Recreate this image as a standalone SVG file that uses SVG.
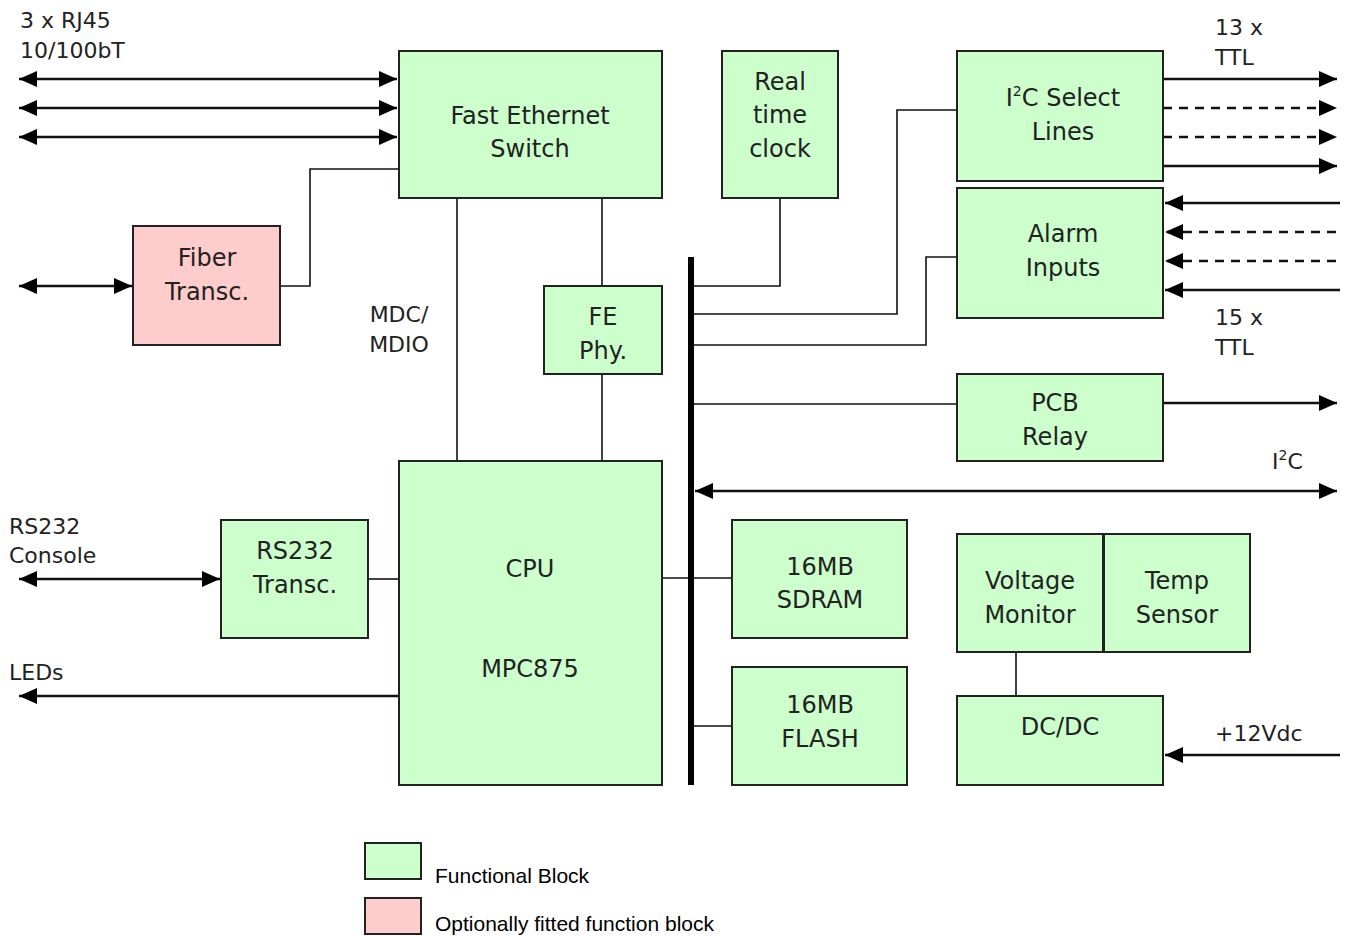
<svg xmlns="http://www.w3.org/2000/svg" width="1347" height="936" viewBox="0 0 1347 936">
<style>
.g{fill:#ccffcc;stroke:#222;stroke-width:2}
.p{fill:#ffcccc;stroke:#222;stroke-width:2}
.t{font-family:"DejaVu Sans",Verdana,sans-serif;font-size:24px;fill:#222;text-anchor:middle}
.l{font-family:"DejaVu Sans",Verdana,sans-serif;font-size:22px;fill:#222}
.lg{font-family:"Liberation Sans",Arial,sans-serif;font-size:21px;fill:#000}
.w{fill:none;stroke:#111;stroke-width:1.6}
.a{fill:none;stroke:#111;stroke-width:2.4}
.d{stroke-dasharray:9,7}
.s{font-size:14px}
</style>
<defs>
<marker id="ah" markerUnits="userSpaceOnUse" markerWidth="20" markerHeight="16" refX="18" refY="8" orient="auto-start-reverse"><path d="M0,0 L18,8 L0,16 Z" fill="#000"/></marker>
</defs>
<g id="connectors">
<line class="a" x1="19" y1="79" x2="397" y2="79" marker-start="url(#ah)" marker-end="url(#ah)"/>
<line class="a" x1="19" y1="108" x2="397" y2="108" marker-start="url(#ah)" marker-end="url(#ah)"/>
<line class="a" x1="19" y1="137" x2="397" y2="137" marker-start="url(#ah)" marker-end="url(#ah)"/>
<line class="a" x1="19" y1="286" x2="132" y2="286" marker-start="url(#ah)" marker-end="url(#ah)"/>
<polyline class="w" points="281,286 310,286 310,169 399,169"/>
<line class="w" x1="457" y1="198" x2="457" y2="461"/>
<line class="w" x1="602" y1="198" x2="602" y2="286"/>
<line class="w" x1="602" y1="374" x2="602" y2="461"/>
<polyline class="w" points="780,198 780,286 693,286"/>
<polyline class="w" points="693,314 897,314 897,110 957,110"/>
<polyline class="w" points="693,345 926,345 926,257 957,257"/>
<line class="w" x1="693" y1="404" x2="957" y2="404"/>
<line class="a" x1="695" y1="491" x2="1337" y2="491" marker-start="url(#ah)" marker-end="url(#ah)"/>
<line class="w" x1="662" y1="578" x2="732" y2="578"/>
<line class="w" x1="693" y1="726" x2="732" y2="726"/>
<line class="w" x1="1016" y1="652" x2="1016" y2="696"/>
<line class="a" x1="1340" y1="755" x2="1165" y2="755" marker-end="url(#ah)"/>
<line class="a" x1="19" y1="579" x2="220" y2="579" marker-start="url(#ah)" marker-end="url(#ah)"/>
<line class="w" x1="368" y1="579" x2="399" y2="579"/>
<line class="a" x1="399" y1="696" x2="19" y2="696" marker-end="url(#ah)"/>
<line class="a" x1="1163" y1="79" x2="1337" y2="79" marker-end="url(#ah)"/>
<line class="a d" x1="1163" y1="108" x2="1337" y2="108" marker-end="url(#ah)"/>
<line class="a d" x1="1163" y1="137" x2="1337" y2="137" marker-end="url(#ah)"/>
<line class="a" x1="1163" y1="166" x2="1337" y2="166" marker-end="url(#ah)"/>
<line class="a" x1="1340" y1="203" x2="1165" y2="203" marker-end="url(#ah)"/>
<line class="a d" x1="1336" y1="232" x2="1165" y2="232" marker-end="url(#ah)"/>
<line class="a d" x1="1336" y1="261" x2="1165" y2="261" marker-end="url(#ah)"/>
<line class="a" x1="1340" y1="290" x2="1165" y2="290" marker-end="url(#ah)"/>
<line class="a" x1="1163" y1="403" x2="1337" y2="403" marker-end="url(#ah)"/>
<rect x="688" y="257" width="6" height="528" fill="#000"/>
</g>
<g id="switch"><rect class="g" x="399" y="51" width="263" height="147"/><text class="t" x="530" y="124">Fast Ethernet</text><text class="t" x="530" y="157">Switch</text></g>
<g id="rtc"><rect class="g" x="722" y="51" width="116" height="147"/><text class="t" x="780" y="90">Real</text><text class="t" x="780" y="123">time</text><text class="t" x="780" y="157">clock</text></g>
<g id="i2csel"><rect class="g" x="957" y="51" width="206" height="130"/><text class="t" x="1063" y="106">I<tspan class="s" dy="-10">2</tspan><tspan dy="10">C Select</tspan></text><text class="t" x="1063" y="140">Lines</text></g>
<g id="alarm"><rect class="g" x="957" y="188" width="206" height="130"/><text class="t" x="1063" y="242">Alarm</text><text class="t" x="1063" y="276">Inputs</text></g>
<g id="fiber"><rect class="p" x="133" y="226" width="147" height="119"/><text class="t" x="207" y="266">Fiber</text><text class="t" x="207" y="300">Transc.</text></g>
<g id="fephy"><rect class="g" x="544" y="286" width="118" height="88"/><text class="t" x="603" y="325">FE</text><text class="t" x="603" y="359">Phy.</text></g>
<g id="relay"><rect class="g" x="957" y="374" width="206" height="87"/><text class="t" x="1055" y="411">PCB</text><text class="t" x="1055" y="445">Relay</text></g>
<g id="cpu"><rect class="g" x="399" y="461" width="263" height="324"/><text class="t" x="530" y="577">CPU</text><text class="t" x="530" y="677">MPC875</text></g>
<g id="rs232"><rect class="g" x="221" y="520" width="147" height="118"/><text class="t" x="295" y="559">RS232</text><text class="t" x="295" y="593">Transc.</text></g>
<g id="sdram"><rect class="g" x="732" y="520" width="175" height="118"/><text class="t" x="820" y="575">16MB</text><text class="t" x="820" y="608">SDRAM</text></g>
<g id="flash"><rect class="g" x="732" y="667" width="175" height="118"/><text class="t" x="820" y="713">16MB</text><text class="t" x="820" y="747">FLASH</text></g>
<g id="vmon"><rect class="g" x="957" y="534" width="146" height="118"/><text class="t" x="1030" y="589">Voltage</text><text class="t" x="1030" y="623">Monitor</text></g>
<g id="temp"><rect class="g" x="1104" y="534" width="146" height="118"/><text class="t" x="1177" y="589">Temp</text><text class="t" x="1177" y="623">Sensor</text></g>
<g id="dcdc"><rect class="g" x="957" y="696" width="206" height="89"/><text class="t" x="1060" y="735">DC/DC</text></g>
<g id="labels">
<text class="l" x="20" y="28">3 x RJ45</text><text class="l" x="20" y="58">10/100bT</text>
<text class="l" x="1215" y="35">13 x</text><text class="l" x="1215" y="65">TTL</text>
<text class="l" x="1215" y="325">15 x</text><text class="l" x="1215" y="355">TTL</text>
<text class="l" x="1272" y="469">I<tspan class="s" dy="-9">2</tspan><tspan dy="9">C</tspan></text>
<text class="l" x="9" y="534">RS232</text><text class="l" x="9" y="563">Console</text>
<text class="l" x="9" y="680">LEDs</text>
<text class="l" x="1215" y="741">+12Vdc</text>
<text class="l" x="399" y="322" text-anchor="middle">MDC/</text><text class="l" x="399" y="352" text-anchor="middle">MDIO</text>
</g>
<g id="legend">
<rect class="g" x="365" y="843" width="56" height="36"/><text class="lg" x="435" y="883">Functional Block</text>
<rect class="p" x="365" y="898" width="56" height="36"/><text class="lg" x="435" y="931">Optionally fitted function block</text>
</g>
</svg>
